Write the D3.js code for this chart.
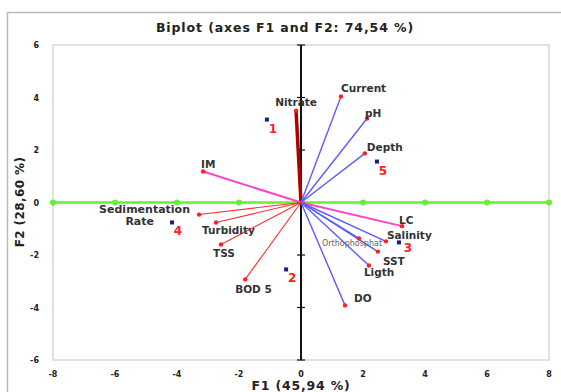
<!DOCTYPE html>
<html>
<head>
<meta charset="utf-8">
<script src="https://cdn.jsdelivr.net/npm/d3@7"></script>
<style>
  body { margin: 0; background: #fff; }
  text { font-family: "DejaVu Sans", Verdana, sans-serif; }
</style>
</head>
<body>
<div id="chart"></div>
<script>
const WIDTH = 561;
const HEIGHT = 392;

// variables (arrows)
var varNames = ["Nitrate", "Current", "pH", "Depth", "IM", "LC", "Salinity", "Orthophosphat", "SST", "Ligth", "DO", "Sedimentation Rate", "Turbidity", "TSS", "BOD 5"];
var varF1 = [-0.16, 1.29, 2.13, 2.06, -3.16, 3.26, 2.74, 1.87, 2.48, 2.19, 1.42, -3.29, -2.74, -2.58, -1.8];
var varF2 = [3.5, 4.04, 3.2, 1.87, 1.18, -0.9, -1.48, -1.37, -1.87, -2.4, -3.92, -0.46, -0.76, -1.6, -2.93];
var varGroup = ["n", "b", "b", "b", "m", "m", "b", "b", "b", "b", "b", "r", "r", "r", "r"];

// observations
var obsNames = ["1", "2", "3", "4", "5"];
var obsF1 = [-1.1, -0.48, 3.16, -4.16, 2.45];
var obsF2 = [3.16, -2.55, -1.52, -0.76, 1.56];

var xTicks = [-8, -6, -4, -2, 0, 2, 4, 6, 8];
var yTicks = [-6, -4, -2, 0, 2, 4, 6];

var groupColor = { n: "#b00000", b: "#5c5cff", m: "#ff44c8", r: "#ff3030" };
var groupWidth = { n: 3.5, b: 1.4, m: 2, r: 1.1 };

var x = d3.scaleLinear().domain([-8, 8]).range([53, 549]);
var y = d3.scaleLinear().domain([-6, 6]).range([360, 45]);

var svg = d3.select("#chart").append("svg")
  .attr("width", WIDTH).attr("height", HEIGHT);

// outer frame
svg.append("rect").attr("x", 7.5).attr("y", 12.5).attr("width", 600).attr("height", 400)
  .attr("fill", "none").attr("stroke", "#bbb").attr("stroke-width", 1.5);

// plot frame
svg.append("rect").attr("x", x(-8)).attr("y", y(6)).attr("width", x(8) - x(-8)).attr("height", y(-6) - y(6))
  .attr("fill", "none").attr("stroke", "#d8d8d8").attr("stroke-width", 1.5);

// title
svg.append("text").attr("x", 285).attr("y", 32).attr("text-anchor", "middle")
  .style("font-size", "12.5px").style("font-weight", "bold").style("letter-spacing", "0.9px").attr("fill", "#222")
  .text("Biplot (axes F1 and F2: 74,54 %)");

// tick labels
svg.selectAll(".xt").data(xTicks).enter().append("text")
  .attr("x", function(d) { return x(d); }).attr("y", 377).attr("text-anchor", "middle")
  .style("font-size", "8px").style("font-weight", "bold").attr("fill", "#222")
  .text(function(d) { return d; });
svg.selectAll(".yt").data(yTicks).enter().append("text")
  .attr("x", 39).attr("y", function(d) { return y(d) + 3; }).attr("text-anchor", "end")
  .style("font-size", "8px").style("font-weight", "bold").attr("fill", "#222")
  .text(function(d) { return d; });

// axis titles
svg.append("text").attr("x", 301).attr("y", 390).attr("text-anchor", "middle")
  .style("font-size", "12.5px").style("font-weight", "bold").style("letter-spacing", "0.8px").attr("fill", "#222")
  .text("F1 (45,94 %)");
svg.append("text").attr("transform", "translate(24,202) rotate(-90)").attr("text-anchor", "middle")
  .style("font-size", "12px").style("font-weight", "bold").style("letter-spacing", "0.4px").attr("fill", "#222")
  .text("F2 (28,60 %)");

// green horizontal axis with markers
svg.append("line").attr("x1", x(-8)).attr("x2", x(8)).attr("y1", y(0)).attr("y2", y(0))
  .attr("stroke", "#66ee33").attr("stroke-width", 2.5);
svg.selectAll(".gd").data(xTicks).enter().append("circle")
  .attr("cx", function(d) { return x(d); }).attr("cy", y(0)).attr("r", 3)
  .attr("fill", "#66ee33");

// black vertical axis with ticks
svg.append("line").attr("x1", x(0)).attr("x2", x(0)).attr("y1", y(6)).attr("y2", y(-6))
  .attr("stroke", "#111").attr("stroke-width", 2);
svg.selectAll(".vt").data(yTicks).enter().append("line")
  .attr("x1", x(0) - 4).attr("x2", x(0) + 4)
  .attr("y1", function(d) { return y(d); }).attr("y2", function(d) { return y(d); })
  .attr("stroke", "#111").attr("stroke-width", 1.2);

// arrows
var vars = varNames.map(function(n, i) { return { name: n, f1: varF1[i], f2: varF2[i], g: varGroup[i] }; });
svg.selectAll(".vl").data(vars).enter().append("line")
  .attr("x1", x(0)).attr("y1", y(0))
  .attr("x2", function(d) { return x(d.f1); }).attr("y2", function(d) { return y(d.f2); })
  .attr("stroke", function(d) { return groupColor[d.g]; })
  .attr("stroke-width", function(d) { return groupWidth[d.g]; });
svg.selectAll(".vd").data(vars).enter().append("circle")
  .attr("cx", function(d) { return x(d.f1); }).attr("cy", function(d) { return y(d.f2); })
  .attr("r", 2.2).attr("fill", "#ff2020");

// variable labels: offsets in px relative to arrow tip
var labelPos = {
  "Nitrate": [0, -5, "middle"], "Current": [0, -4, "start"], "pH": [-2, -2, "start"],
  "Depth": [2, -2, "start"], "IM": [-2, -4, "start"], "LC": [-3, -2, "start"],
  "Salinity": [1, -2, "start"], "Orthophosphat": [-37, 8, "start"], "SST": [5, 13, "start"],
  "Ligth": [-5, 10, "start"], "DO": [9, -3, "start"], "Turbidity": [-14, 12, "start"],
  "TSS": [-8, 12, "start"], "BOD 5": [-10, 14, "start"]
};
vars.forEach(function(d) {
  if (d.name === "Sedimentation Rate") {
    var t = svg.append("text").attr("text-anchor", "end")
      .style("font-size", "11px").style("font-weight", "bold").attr("fill", "#333");
    t.append("tspan").attr("x", x(d.f1) - 9).attr("y", y(d.f2) - 2).text("Sedimentation");
    t.append("tspan").attr("x", x(d.f1) - 45).attr("y", y(d.f2) + 10).text("Rate");
    return;
  }
  var p = labelPos[d.name];
  svg.append("text").attr("x", x(d.f1) + p[0]).attr("y", y(d.f2) + p[1]).attr("text-anchor", p[2])
    .style("font-size", d.name === "Orthophosphat" ? "8px" : "10.5px")
    .style("font-weight", d.name === "Orthophosphat" ? "normal" : "bold")
    .attr("fill", d.name === "Orthophosphat" ? "#666" : "#333")
    .text(d.name);
});

// observations
var obs = obsNames.map(function(n, i) { return { name: n, f1: obsF1[i], f2: obsF2[i] }; });
svg.selectAll(".os").data(obs).enter().append("rect")
  .attr("x", function(d) { return x(d.f1) - 2; }).attr("y", function(d) { return y(d.f2) - 2; })
  .attr("width", 4).attr("height", 4).attr("fill", "#1a1a8c");
svg.selectAll(".ol").data(obs).enter().append("text")
  .attr("x", function(d) { return x(d.f1) + (d.name === "3" ? 9 : 6); })
  .attr("y", function(d) { return y(d.f2) + (d.name === "3" ? 10 : 13); })
  .attr("text-anchor", "middle")
  .style("font-size", "12px").style("font-weight", "bold").attr("fill", "#ff2020")
  .text(function(d) { return d.name; });
</script>
</body>
</html>
